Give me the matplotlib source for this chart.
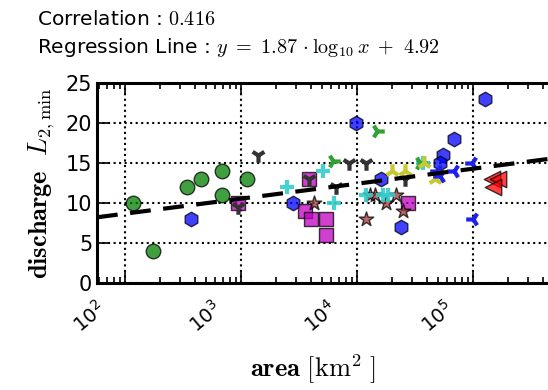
import numpy as np
import matplotlib
matplotlib.use('Agg')
import matplotlib.pyplot as plt
import matplotlib.transforms as mtransforms

plt.rcParams['mathtext.fontset'] = 'cm'

# regression result
corr = 0.416
slope = 1.87
intercept = 4.92

# groups of (area, discharge)
circ_x = [118, 175, 340, 457, 690, 690, 1120]
circ_y = [10, 4, 12, 13, 14, 11, 13]

hex_x = [370, 2800, 9800, 16000, 24000, 69000, 55000, 52000, 126000]
hex_y = [8, 10, 20, 13, 7, 18, 16, 15, 23]

sq_x = [950, 3900, 3550, 4000, 5400, 5400, 27500]
sq_y = [10, 13, 9, 8, 8, 6, 10]

star_x = [4300, 12000, 13000, 14300, 18000, 21800, 25000]
star_y = [10, 8, 11, 11, 10, 11, 9]

plus_x = [2500, 5100, 6300, 12000, 16700, 18600, 37000]
plus_y = [12, 14, 10, 11, 11, 11, 15]

dark_x = [950, 1400, 3900, 6600, 8500, 12000, 26000]
dark_y = [9.5, 16, 13, 12, 15, 15, 13]

gtri_x = [6200, 14900, 35000]
gtri_y = [15.2, 19, 15]

ytri_x = [19900, 26000, 38000, 47000]
ytri_y = [14, 14, 15, 13]

btri_x = [49000, 52000, 69000, 98000, 100000]
btri_y = [14, 13.3, 14, 15, 8]

red_x = [145000, 165000, 149000]
red_y = [13, 13, 12]

fig = plt.figure(figsize=(5.48, 3.90), dpi=100)
ax = fig.add_axes([0.177, 0.274, 0.94, 0.514])

ax.scatter(circ_x, circ_y, marker='o', s=110, c='g', alpha=0.75, edgecolors='k', zorder=3)
ax.scatter(hex_x, hex_y, marker='h', s=110, c='b', alpha=0.75, edgecolors='k', zorder=3)
ax.scatter(sq_x, sq_y, marker='s', s=110, c='m', alpha=0.75, edgecolors='k', zorder=3)
ax.scatter(star_x, star_y, marker='*', s=120, c='#a03a3a', alpha=0.75, edgecolors='k', zorder=3)
ax.scatter(plus_x, plus_y, marker='+', s=100, c='#33cccc', linewidths=3, alpha=0.9, zorder=3)
ax.scatter(dark_x, dark_y, marker='1', s=110, c='#333333', linewidths=3, zorder=4)
ax.scatter(gtri_x, gtri_y, marker='4', s=110, c='#33a033', linewidths=3, zorder=4)
ax.scatter(ytri_x, ytri_y, marker='2', s=110, c='#c8c830', linewidths=3, zorder=4)
ax.scatter(btri_x, btri_y, marker='3', s=110, c='#2020ee', linewidths=3, zorder=4)
ax.scatter(red_x, red_y, marker='<', s=140, c='r', alpha=0.75, edgecolors='k', zorder=3)

xl = (10 ** 1.76, 10 ** 6.2)
xx = np.logspace(np.log10(xl[0]), np.log10(xl[1]), 50)
ax.plot(xx, slope * np.log10(xx) + intercept, 'k--', lw=3, dashes=(5, 3), zorder=5)

ax.set_xscale('log')
ax.set_xlim(xl)
ax.set_ylim(0, 25)
ax.set_yticks([0, 5, 10, 15, 20, 25])
ax.set_xticks([1e2, 1e3, 1e4, 1e5])
ax.grid(True, which='major', color='k', linestyle=':', linewidth=1.5)
ax.set_axisbelow(True)

for s in ax.spines.values():
    s.set_linewidth(2.2)
ax.tick_params(which='both', direction='in', top=True, right=True, width=1.2)
ax.tick_params(which='major', length=8, labelsize=15)
ax.tick_params(which='minor', length=4)
ax.tick_params(axis='x', pad=0, labelsize=14)
# rotated tick labels are centred left of and below their ticks
shift = mtransforms.ScaledTranslation(-0.36, -0.34, fig.dpi_scale_trans)
for lab in ax.get_xticklabels():
    lab.set_rotation(40)
    lab.set_ha('center')
    lab.set_va('center')
    lab.set_transform(lab.get_transform() + shift)

ax.set_xlabel(r'$\mathbf{area}\ [\mathrm{km}^2\ ]$', fontsize=19)
ax.xaxis.set_label_coords(0.419, -0.345)
ax.set_ylabel(r'$\mathbf{discharge}\ \ L_{2,\min}$', fontsize=19, labelpad=6)

fig.text(0.068, 0.935, 'Correlation : $%.3f$' % corr, fontsize=14.5)
fig.text(0.068, 0.865, r'Regression Line : $y\ =\ %.2f\,\cdot\log_{10}x\ +\ %.2f$' % (slope, intercept),
         fontsize=14.5)

fig.savefig('out.png', dpi=100)
